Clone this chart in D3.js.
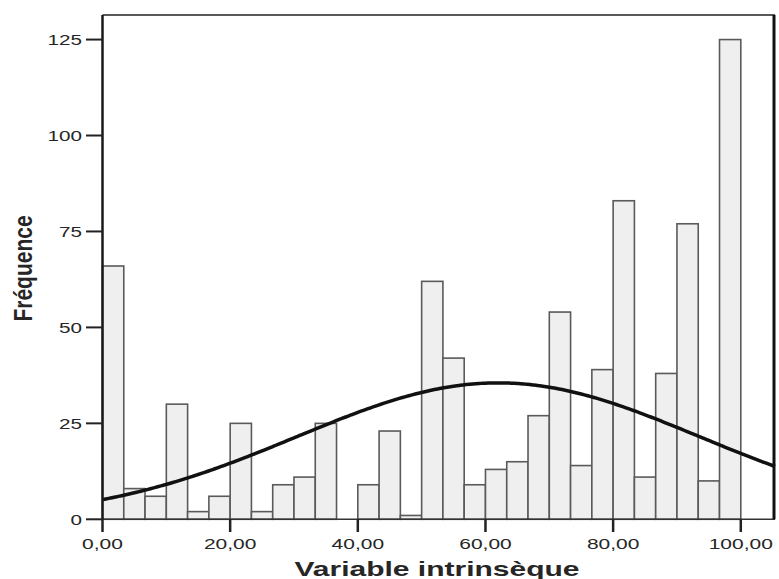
<!DOCTYPE html>
<html>
<head>
<meta charset="utf-8">
<script src="https://cdn.jsdelivr.net/npm/d3@7"></script>
<style>
  body { margin: 0; background: #fff; }
  text { font-family: "Liberation Sans", Arial, sans-serif; fill: #262626; }
</style>
</head>
<body>
<svg id="chart" width="779" height="579"></svg>
<script>
// histogram data (30 bins of width 100/30, starting at 0)
const binOrigin = 0, binWidth = 100 / 30;
const counts = [66, 8, 6, 30, 2, 6, 25, 2, 9, 11, 25, 0, 9, 23, 1,
                62, 42, 9, 13, 15, 27, 54, 14, 39, 83, 11, 38, 77, 10, 125];
const xTicks = [0, 20, 40, 60, 80, 100];
const yTicks = [0, 25, 50, 75, 100, 125];
// normal curve parameters
const curveMean = 62, curveSd = 31.5;

const svg = d3.select("#chart");
const mLeft = 102.5, mRight = 775, mTop = 15, mBottom = 519.3;

const x = d3.scaleLinear().domain([0, 105.36]).range([mLeft, mRight]);
const y = d3.scaleLinear().domain([0, 131.4]).range([mBottom, mTop]);

const fmt = v => d3.format(".2f")(v).replace(".", ",");

// barres
const bins = counts.map((c, i) => ({ x0: binOrigin + i * binWidth, x1: binOrigin + (i + 1) * binWidth, n: c }));
svg.append("g").selectAll("rect")
    .data(bins.filter(d => d.n > 0))
    .join("rect")
    .attr("x", d => x(d.x0))
    .attr("y", d => y(d.n))
    .attr("width", d => x(d.x1) - x(d.x0))
    .attr("height", d => y(0) - y(d.n))
    .attr("fill", "#efefef")
    .attr("stroke", "#5a5a5a")
    .attr("stroke-width", 1.6);

// courbe normale
const total = d3.sum(counts);
const curvePts = d3.range(0, 105.36, 0.5).concat([105.36]).map(v => [v,
    total * binWidth / (curveSd * Math.sqrt(2 * Math.PI)) * Math.exp(-((v - curveMean) ** 2) / (2 * curveSd * curveSd))]);
svg.append("path")
    .datum(curvePts)
    .attr("fill", "none")
    .attr("stroke", "#111")
    .attr("stroke-width", 3.5)
    .attr("d", d3.line().x(d => x(d[0])).y(d => y(d[1])).curve(d3.curveBasis));

// cadre
svg.append("line").attr("x1", mLeft).attr("x2", mRight).attr("y1", mTop).attr("y2", mTop)
    .attr("stroke", "#222").attr("stroke-width", 1.5);
svg.append("line").attr("x1", mLeft).attr("x2", mRight).attr("y1", mBottom).attr("y2", mBottom)
    .attr("stroke", "#333").attr("stroke-width", 1.5);
svg.append("line").attr("x1", mLeft).attr("x2", mLeft).attr("y1", mTop).attr("y2", mBottom + 0.5)
    .attr("stroke", "#1a1a1a").attr("stroke-width", 2.5);
svg.append("line").attr("x1", mRight - 1).attr("x2", mRight - 1).attr("y1", mTop).attr("y2", mBottom)
    .attr("stroke", "#111").attr("stroke-width", 3);

// axe Y
const yg = svg.append("g");
yTicks.forEach(t => {
    yg.append("line").attr("x1", 86).attr("x2", mLeft).attr("y1", y(t)).attr("y2", y(t))
        .attr("stroke", "#222").attr("stroke-width", 2);
    yg.append("text")
        .attr("transform", `translate(82,${y(t) + 5.5}) scale(1.38,1)`)
        .attr("text-anchor", "end")
        .style("font-size", "15px")
        .text(t);
});

// axe X
const xg = svg.append("g");
xTicks.forEach(t => {
    xg.append("line").attr("x1", x(t)).attr("x2", x(t)).attr("y1", mBottom).attr("y2", 532)
        .attr("stroke", "#222").attr("stroke-width", 2.5);
    xg.append("text")
        .attr("transform", `translate(${x(t)},548.5) scale(1.4,1)`)
        .attr("text-anchor", "middle")
        .style("font-size", "15px")
        .text(fmt(t));
});

// titres
svg.append("text")
    .attr("transform", `translate(437,576) scale(1.5,1)`)
    .attr("text-anchor", "middle")
    .style("font-size", "20px")
    .style("font-weight", "bold")
    .text("Variable intrinsèque");

svg.append("text")
    .attr("transform", `translate(32,268.5) rotate(-90) scale(1,1.25)`)
    .attr("text-anchor", "middle")
    .style("font-size", "21px")
    .style("font-weight", "bold")
    .text("Fréquence");
</script>
</body>
</html>
